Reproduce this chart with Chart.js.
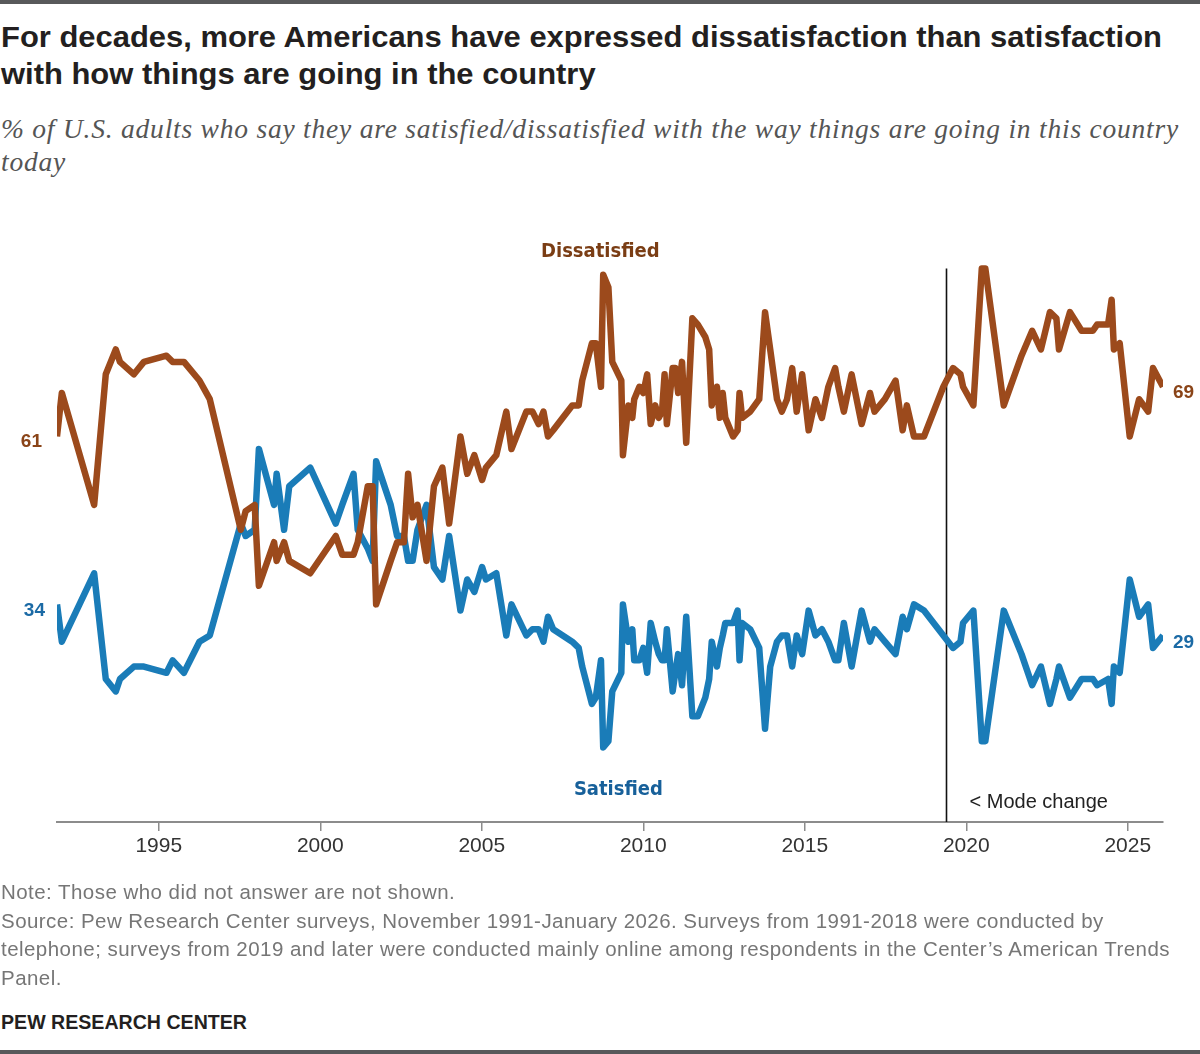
<!DOCTYPE html>
<html>
<head>
<meta charset="utf-8">
<script src="https://cdn.jsdelivr.net/npm/chart.js@4"></script>
<style>
  html, body { margin: 0; padding: 0; background: #fff; }
  body { width: 1200px; height: 1054px; position: relative; overflow: hidden; }
  .rule { position: absolute; left: 0; width: 1200px; height: 4px; background: #58595b; }
  #title { position: absolute; left: 1px; top: 18px; font-family: 'Liberation Sans', sans-serif; font-weight: bold; font-size: 30px; line-height: 37px; color: #231f20; white-space: nowrap; transform-origin: left top; }
  #subtitle { position: absolute; left: 1px; top: 112px; font-family: 'Liberation Serif', serif; font-style: italic; font-size: 27.5px; line-height: 33px; color: #555; white-space: nowrap; }
  #chartBox { position: absolute; left: 0; top: 180px; width: 1200px; height: 700px; }
  #notes { position: absolute; left: 1px; top: 878px; font-family: 'Liberation Sans', sans-serif; font-size: 20.5px; line-height: 28.5px; color: #767676; white-space: nowrap; }
  #brand { position: absolute; left: 1px; top: 1011px; font-family: 'Liberation Sans', sans-serif; font-weight: bold; font-size: 20px; color: #231f20; white-space: nowrap; transform-origin: left top; }
</style>
</head>
<body>
<div class="rule" style="top:0"></div>
<div id="title">For decades, more Americans have expressed dissatisfaction than satisfaction<br>with how things are going in the country</div>
<div id="subtitle">% of U.S. adults who say they are satisfied/dissatisfied with the way things are going in this country<br>today</div>
<div id="chartBox"><canvas id="chart" width="1200" height="700"></canvas></div>
<div id="notes">Note: Those who did not answer are not shown.<br>Source: Pew Research Center surveys, November 1991-January 2026. Surveys from 1991-2018 were conducted by<br>telephone; surveys from 2019 and later were conducted mainly online among respondents in the Center’s American Trends<br>Panel.</div>
<div id="brand">PEW RESEARCH CENTER</div>
<div class="rule" style="top:1050px"></div>

<script>
// survey dates as fractional years
const surveyDates = [
  1991.85, 1992.00, 1993.00, 1993.36, 1993.67, 1993.80, 1994.23, 1994.54, 1995.24, 1995.43,
  1995.78, 1996.26, 1996.58, 1997.54, 1997.69, 1997.97, 1998.10, 1998.57, 1998.65, 1998.88,
  1999.04, 1999.69, 2000.48, 2000.68, 2001.03, 2001.16, 2001.47, 2001.62, 2001.73, 2002.18,
  2002.38, 2002.59, 2002.72, 2002.86, 2003.01, 2003.29, 2003.52, 2003.78, 2003.99, 2004.34,
  2004.55, 2004.77, 2005.01, 2005.13, 2005.45, 2005.76, 2005.92, 2006.38, 2006.57, 2006.76,
  2006.91, 2007.05, 2007.21, 2007.80, 2008.00, 2008.11, 2008.41, 2008.53, 2008.69, 2008.76,
  2008.92, 2009.04, 2009.32, 2009.37, 2009.54, 2009.66, 2009.72, 2009.88, 2010.00, 2010.12,
  2010.23, 2010.37, 2010.48, 2010.58, 2010.66, 2010.73, 2010.91, 2010.99, 2011.08, 2011.20,
  2011.33, 2011.52, 2011.69, 2011.92, 2012.04, 2012.12, 2012.28, 2012.37, 2012.46, 2012.54,
  2012.78, 2012.92, 2012.98, 2013.06, 2013.31, 2013.59, 2013.77, 2013.93, 2014.14, 2014.29,
  2014.45, 2014.61, 2014.75, 2014.92, 2015.12, 2015.33, 2015.53, 2015.73, 2015.94, 2016.04,
  2016.21, 2016.45, 2016.76, 2017.02, 2017.16, 2017.48, 2017.81, 2018.03, 2018.16, 2018.38,
  2018.69, 2019.29, 2019.59, 2019.82, 2019.90, 2020.22, 2020.48, 2020.59, 2021.16, 2021.71,
  2022.04, 2022.31, 2022.59, 2022.79, 2022.87, 2023.21, 2023.57, 2023.92, 2024.05, 2024.39,
  2024.50, 2024.57, 2024.75, 2025.06, 2025.35, 2025.63, 2025.78, 2026.09
];

const dissatisfied = [
  61, 68, 50, 71, 75, 73, 71, 73, 74, 73,
  73, 70, 67, 46, 49, 50, 37, 44, 41, 44,
  41, 39, 45, 42, 42, 44, 53, 53, 34, 41,
  44, 44, 55, 48, 50, 41, 53, 56, 47, 61,
  55, 58, 54, 56, 58, 65, 59, 65, 65, 63,
  65, 61, 62, 66, 66, 70, 76, 76, 69, 87,
  85, 73, 70, 58, 66, 64, 67, 69, 68, 71,
  63, 66, 64, 65, 71, 63, 72, 72, 68, 73,
  60, 80, 79, 77, 75, 66, 69, 64, 68, 64,
  61, 62, 68, 64, 65, 67, 81, 75, 67, 65,
  67, 72, 65, 71, 62, 67, 64, 69, 72, 69,
  65, 71, 63, 68, 65, 67, 70, 62, 66, 61,
  61, 69, 72, 71, 69, 66, 88, 88, 66, 74,
  78, 75, 81, 80, 75, 81, 78, 78, 79, 79,
  83, 75, 76, 61, 67, 65, 72, 69
];

const satisfied = [
  34, 28, 39, 22, 20, 22, 24, 24, 23, 25,
  23, 28, 29, 47, 45, 46, 59, 50, 55, 46,
  53, 56, 47, 50, 55, 46, 43, 41, 57, 50,
  45, 45, 41, 41, 46, 50, 40, 38, 45, 33,
  38, 36, 40, 38, 39, 29, 34, 29, 30, 30,
  28, 32, 30, 28, 27, 24, 18, 19, 25, 11,
  12, 20, 23, 34, 28, 30, 25, 25, 27, 23,
  31, 28, 26, 25, 25, 30, 20, 23, 26, 21,
  32, 16, 16, 19, 22, 28, 24, 27, 29, 31,
  31, 33, 25, 31, 30, 27, 14, 24, 28, 29,
  29, 24, 29, 26, 33, 29, 30, 28, 25, 25,
  31, 24, 33, 28, 30, 28, 26, 32, 30, 34,
  33, 29, 27, 28, 31, 33, 12, 12, 33, 26,
  21, 24, 18, 22, 24, 19, 22, 22, 21, 22,
  18, 24, 23, 38, 32, 34, 27, 29
];

const tickYears = [1995, 2000, 2005, 2010, 2015, 2020, 2025];
const modeChangeDate = 2019.36;

const brown = '#9c4a1c';
const blue = '#1a7cb8';

// squeeze or stretch the text blocks to the widths they have in the original
function squeeze(id, target) {
  const el = document.getElementById(id);
  el.style.transform = 'scaleX(' + (target / el.getBoundingClientRect().width) + ')';
}
function spread(id, target) {
  const el = document.getElementById(id);
  const longest = Math.max(...el.innerText.split('\n').map(s => s.length));
  const w = el.getBoundingClientRect().width;
  el.style.letterSpacing = ((target - w) / longest) + 'px';
}
squeeze('title', 1161);
squeeze('brand', 246);
spread('subtitle', 1178);
spread('notes', 1169);

function points(values) {
  return surveyDates.map((d, i) => ({ x: d, y: values[i] }));
}

const labelsPlugin = {
  id: 'labels',
  beforeDatasetsDraw(chart) {
    const { ctx, scales: { x, y } } = chart;
    const mx = Math.round(x.getPixelForValue(modeChangeDate)) + 0.5;
    ctx.save();
    ctx.strokeStyle = '#111';
    ctx.lineWidth = 1.6;
    ctx.beginPath();
    ctx.moveTo(mx, y.getPixelForValue(88));
    ctx.lineTo(mx, y.getPixelForValue(y.min));
    ctx.stroke();
    ctx.fillStyle = '#222';
    ctx.font = '20px "Liberation Sans", sans-serif';
    ctx.textBaseline = 'middle';
    ctx.textAlign = 'left';
    ctx.fillText('< Mode change', mx + 23, y.getPixelForValue(y.min) - 20);
    ctx.restore();
  },
  afterDatasetsDraw(chart) {
    const { ctx, scales: { x, y } } = chart;
    const last = surveyDates.length - 1;
    ctx.save();
    ctx.textBaseline = 'middle';
    ctx.font = 'bold 20px "DejaVu Sans Condensed", "Liberation Sans", sans-serif';
    ctx.textAlign = 'center';
    ctx.fillStyle = '#7a3d14';
    ctx.fillText('Dissatisfied', x.getPixelForValue(2008.67), y.getPixelForValue(90.7));
    ctx.fillStyle = '#17609a';
    ctx.fillText('Satisfied', x.getPixelForValue(2009.23), y.getPixelForValue(4.1));

    ctx.font = 'bold 19px "Liberation Sans", sans-serif';
    const x0 = x.getPixelForValue(surveyDates[0]);
    const x1 = x.getPixelForValue(surveyDates[last]);
    ctx.textAlign = 'right';
    ctx.fillStyle = '#8a4418';
    ctx.fillText(dissatisfied[0], x0 - 15, y.getPixelForValue(dissatisfied[0]) + 5);
    ctx.fillStyle = '#1b6aa5';
    ctx.fillText(satisfied[0], x0 - 12, y.getPixelForValue(satisfied[0]) + 6);
    ctx.textAlign = 'left';
    ctx.fillStyle = '#8a4418';
    ctx.fillText(dissatisfied[last], x1 + 10, y.getPixelForValue(dissatisfied[last]) + 6);
    ctx.fillStyle = '#1b6aa5';
    ctx.fillText(satisfied[last], x1 + 10, y.getPixelForValue(satisfied[last]) + 7);
    ctx.restore();
  }
};

new Chart(document.getElementById('chart'), {
  type: 'line',
  data: {
    datasets: [
      {
        label: 'Dissatisfied',
        data: points(dissatisfied),
        borderColor: brown,
        borderWidth: 6.5,
        borderJoinStyle: 'round',
        pointRadius: 0,
        tension: 0
      },
      {
        label: 'Satisfied',
        data: points(satisfied),
        borderColor: blue,
        borderWidth: 6.5,
        borderJoinStyle: 'round',
        pointRadius: 0,
        tension: 0
      }
    ]
  },
  options: {
    responsive: false,
    animation: false,
    devicePixelRatio: 1,
    layout: { padding: { top: 14, left: 57, right: 37, bottom: 0 } },
    plugins: { legend: { display: false }, tooltip: { enabled: false } },
    scales: {
      x: {
        type: 'linear',
        min: surveyDates[0],
        max: surveyDates[surveyDates.length - 1],
        afterBuildTicks: scale => { scale.ticks = tickYears.map(v => ({ value: v })); },
        afterFit: scale => { scale.height = 58; },
        grid: { drawOnChartArea: false, drawTicks: true, tickLength: 9, color: '#8c8c8c', lineWidth: 1.5 },
        border: { display: true, color: '#8c8c8c', width: 2 },
        ticks: {
          callback: v => String(v),
          font: { family: '"Liberation Sans", sans-serif', size: 21 },
          color: '#333',
          padding: 3,
          maxRotation: 0,
          autoSkip: false
        }
      },
      y: { display: false, min: -1, max: 100 }
    }
  },
  plugins: [labelsPlugin]
});
</script>
</body>
</html>
